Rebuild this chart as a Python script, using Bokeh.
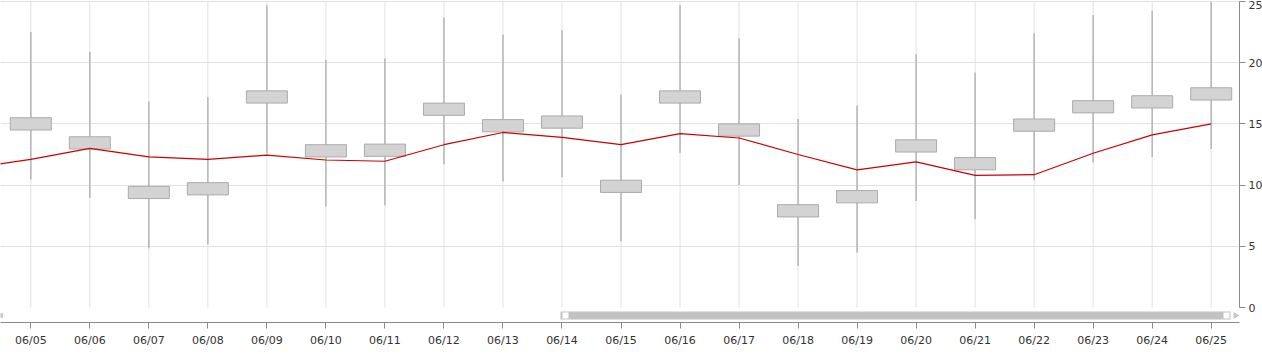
from bokeh.plotting import figure
from bokeh.models import Range1d, FixedTicker, ColumnDataSource
from bokeh.embed import file_html
from bokeh.resources import INLINE

nan = float("nan")

# ---- data ----
dates = ["06/04", "06/05", "06/06", "06/07", "06/08", "06/09", "06/10", "06/11",
         "06/12", "06/13", "06/14", "06/15", "06/16", "06/17", "06/18", "06/19",
         "06/20", "06/21", "06/22", "06/23", "06/24", "06/25"]
whisker_high = [nan, 22.5, 20.9, 16.85, 17.2, 24.7, 20.25, 20.35, 23.7, 22.3, 22.65,
                17.4, 24.7, 22.0, 15.4, 16.5, 20.7, 19.2, 22.4, 23.9, 24.25, 24.95]
whisker_low = [nan, 10.45, 8.95, 4.85, 5.15, 12.6, 8.25, 8.35, 11.7, 10.3, 10.65,
               5.4, 12.65, 10.0, 3.4, 4.5, 8.7, 7.2, 10.4, 11.85, 12.3, 12.95]
box_high = [nan, 15.5, 13.95, 9.9, 10.2, 17.7, 13.3, 13.35, 16.7, 15.35, 15.65,
            10.4, 17.7, 15.0, 8.4, 9.55, 13.7, 12.25, 15.4, 16.9, 17.3, 17.95]
box_low = [nan, 14.5, 12.95, 8.9, 9.2, 16.7, 12.3, 12.35, 15.7, 14.35, 14.65,
           9.4, 16.7, 14.0, 7.4, 8.55, 12.7, 11.25, 14.4, 15.9, 16.3, 16.95]
trend = [11.4, 12.1, 13.0, 12.3, 12.1, 12.45, 12.05, 11.95, 13.3, 14.3, 13.9,
         13.3, 14.2, 13.85, 12.5, 11.25, 11.9, 10.8, 10.85, 12.6, 14.1, 15.0]
y_ticks = [0, 5, 10, 15, 20, 25]
grid_y_ticks = [5, 10, 15, 20, 25]

x = [i - 1 for i in range(len(dates))]  # 06/05 -> 0
box_w = 0.695

# layout constants (pixels)
FRAME_W, FRAME_H = 1239, 322
PX_X0, PX_DX = 30.3, 59.02      # pixel of index 0, pixels per day
PX_Y0, PX_DY = 307.0, 12.24     # pixel of value 0, pixels per unit

def px_to_x(px):
    return (px - PX_X0) / PX_DX

def px_to_y(py):
    return (PX_Y0 - py) / PX_DY

x_start, x_end = px_to_x(0), px_to_x(FRAME_W)
y_start, y_end = px_to_y(FRAME_H), px_to_y(0)

p = figure(frame_width=FRAME_W, frame_height=FRAME_H,
           output_backend="svg", toolbar_location=None,
           x_range=Range1d(x_start, x_end), y_range=Range1d(y_start, y_end),
           y_axis_location="right",
           min_border_left=0, min_border_top=0, min_border_right=0, min_border_bottom=0)
p.outline_line_color = None
p.background_fill_color = "white"
p.border_fill_color = "white"

# grids
p.xgrid.visible = False
p.ygrid.ticker = FixedTicker(ticks=grid_y_ticks)
p.ygrid.grid_line_color = "#e2e2e2"
p.ygrid.grid_line_width = 1

tick_x = list(range(0, len(dates) - 1))
p.segment(x0=tick_x, y0=[0] * len(tick_x), x1=tick_x, y1=[y_end] * len(tick_x),
          line_color="#e2e2e2", line_width=1)

src = ColumnDataSource(dict(x=x, hi=whisker_high, lo=whisker_low,
                            bh=box_high, bl=box_low, trend=trend,
                            left=[v - box_w / 2 for v in x],
                            right=[v + box_w / 2 for v in x]))

# whiskers
p.segment(x0="x", y0="lo", x1="x", y1="hi", source=src,
          line_color="#b5b5b5", line_width=1.5)
# boxes
p.quad(left="left", right="right", bottom="bl", top="bh", source=src,
       fill_color="#d3d3d3", line_color="#ababab", line_width=1)
# trend line
p.line(x="x", y="trend", source=src, line_color="#cc0000", line_width=1.2)

# scrollbar (decoration)
sb_top, sb_bot = px_to_y(311), px_to_y(319)
p.quad(left=[px_to_x(560)], right=[px_to_x(1230)], bottom=[sb_bot], top=[sb_top],
       fill_color="#c2c2c2", line_color=None)
p.rect(x=[px_to_x(565), px_to_x(1226)], y=[px_to_y(315)] * 2, width=6, height=6,
       width_units="screen", height_units="screen",
       fill_color="white", line_color=None)
p.scatter(x=[px_to_x(1235)], y=[px_to_y(315)], marker="triangle", size=7, angle=-1.5708,
          fill_color="#c8c8c8", line_color=None)
p.scatter(x=[px_to_x(0)], y=[px_to_y(315)], marker="square", size=5,
          fill_color="#c8c8c8", line_color=None)

# x axis
xa = p.xaxis[0]
xa.ticker = FixedTicker(ticks=tick_x)
xa.major_label_overrides = {i: dates[i + 1] for i in tick_x}
xa.axis_line_color = "#8a8a8a"
xa.major_tick_line_color = "#8a8a8a"
xa.major_tick_out = 6
xa.major_tick_in = 0
xa.minor_tick_line_color = None
xa.major_label_standoff = 5
xa.major_label_text_font = "DejaVu Sans"
xa.major_label_text_font_size = "11px"
xa.major_label_text_color = "#333333"

# y axis (right)
ya = p.yaxis[0]
ya.ticker = FixedTicker(ticks=y_ticks)
ya.bounds = (0, 25)
ya.axis_line_color = "#8a8a8a"
ya.major_tick_line_color = "#8a8a8a"
ya.major_tick_out = 6
ya.major_tick_in = 0
ya.minor_tick_line_color = None
ya.major_label_standoff = 3
ya.major_label_text_font = "DejaVu Sans"
ya.major_label_text_font_size = "11px"
ya.major_label_text_color = "#333333"

open("out.html", "w").write(file_html(p, INLINE))
